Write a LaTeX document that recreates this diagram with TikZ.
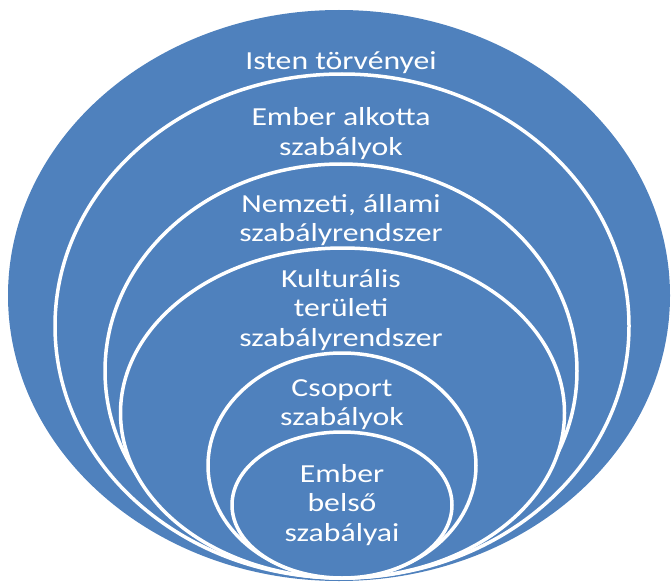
\documentclass[tikz,border=0pt]{standalone}
\usepackage{fontspec}
\setmainfont{Carlito}
\usepackage{graphicx}
\definecolor{ringblue}{RGB}{79,129,189}
% one horizontally widened line of label text
\newcommand{\wline}[1]{\scalebox{1.22}[1]{#1}}
% a centred stack of lines whose baseline is that of its first line
\newcommand{\stack}[1]{\begin{tabular}[t]{@{}c@{}}#1\end{tabular}}
\begin{document}
\begin{tikzpicture}[x=1pt,y=-1pt,
  outerring/.style={fill=ringblue},
  ring/.style={fill=ringblue, draw=white, line width=3.5pt},
  ringtext/.style={text=white, inner sep=0pt, anchor=base,
    font=\fontsize{26}{29.5}\selectfont}]
\useasboundingbox (0,0) rectangle (672,583);

% nested rings, all resting on the same bottom point
\path[outerring] (339,295.5) ellipse [x radius=331pt, y radius=285.5pt];
\path[ring] (342,326)   ellipse [x radius=287pt, y radius=252pt];
\path[ring] (341,371)   ellipse [x radius=236pt, y radius=207pt];
\path[ring] (342.5,413) ellipse [x radius=222pt, y radius=165pt];
\path[ring] (342,465.5) ellipse [x radius=134pt, y radius=112.5pt];
\path[ring] (342,505)   ellipse [x radius=110pt, y radius=73pt];

% ring labels
\node[ringtext] (isten)   at (341,70)  {\stack{\wline{Isten törvényei}}};
\node[ringtext] (ember)   at (341,126) {\stack{\wline{Ember alkotta}\\\wline{szabályok}}};
\node[ringtext] (nemzeti) at (341,212) {\stack{\wline{Nemzeti, állami}\\\wline{szabályrendszer}}};
\node[ringtext] (kultura) at (341,287) {\stack{\wline{Kulturális}\\\wline{területi}\\\wline{szabályrendszer}}};
\node[ringtext] (csoport) at (342,396) {\stack{\wline{Csoport}\\\wline{szabályok}}};
\node[ringtext] (belso)   at (342,482) {\stack{\wline{Ember}\\\wline{belső}\\\wline{szabályai}}};
\end{tikzpicture}
\end{document}
